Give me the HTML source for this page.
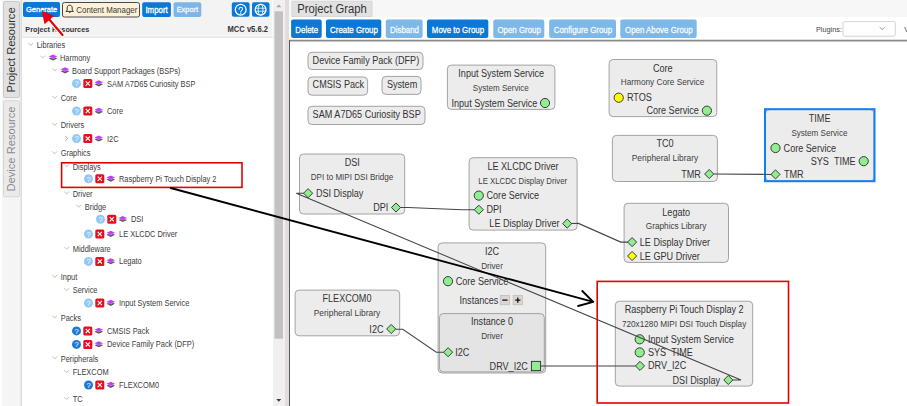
<!DOCTYPE html>
<html><head><meta charset="utf-8"><title>MCC Project Graph</title>
<style>
html,body{margin:0;padding:0;width:907px;height:406px;overflow:hidden;background:#fff;font-family:"Liberation Sans", sans-serif;}
svg{display:block}
text{font-family:"Liberation Sans", sans-serif;}
</style></head><body>
<svg width="907" height="406" viewBox="0 0 907 406" font-family='"Liberation Sans", sans-serif'>
<rect width="907" height="406" fill="#fff"/>
<rect x="2" y="0" width="19" height="406" fill="#f5f5f5"/>
<line x1="20.8" y1="0" x2="20.8" y2="406" stroke="#e4e4e4" stroke-width="1"/>
<rect x="3.5" y="1.5" width="16" height="96" rx="1.5" fill="#e1e1e1" stroke="#cacaca" stroke-width="1"/>
<text transform="translate(14.8,92.4) rotate(-90) scale(1,1.05)" font-size="11.08" fill="#333">Project Resource</text>
<rect x="3.5" y="100.8" width="16" height="96" rx="1.5" fill="#eaeaea" stroke="#d6d6d6" stroke-width="1"/>
<text transform="translate(14.8,191.6) rotate(-90) scale(1,1.05)" font-size="11.2" fill="#8a8a8a">Device Resource</text>
<rect x="21" y="0" width="252" height="38" fill="#f3f3f3"/>
<line x1="21.5" y1="0" x2="21.5" y2="406" stroke="#dcdcdc" stroke-width="1"/>
<rect x="22" y="35" width="251" height="1.6" fill="#f7f7f7"/>
<line x1="22" y1="37.3" x2="273" y2="37.3" stroke="#dcdcdc" stroke-width="1.1"/>
<rect x="23" y="2" width="37" height="15" rx="2" fill="#0a78d7"/>
<text transform="translate(41.60,12.37) scale(0.9434,1)" font-size="8.00" fill="#fff" text-anchor="middle" font-weight="normal" stroke="#fff" stroke-width="0.3">Generate</text>
<rect x="62.5" y="2.5" width="77" height="14.5" rx="2" fill="#fdf1d8" stroke="#4a4a4a" stroke-width="1"/>
<path d="M65.9,11.4 L67.2,10.1 L67.2,7.9 C67.2,6 68.3,5.2 69.7,5.2 C71.1,5.2 72.2,6 72.2,7.9 L72.2,10.1 L73.5,11.4 Z" fill="none" stroke="#3a3a3a" stroke-width="1" stroke-linejoin="round"/>
<path d="M68.7,11.9 Q69.7,13.4 70.7,11.9" fill="none" stroke="#3a3a3a" stroke-width="1"/>
<text transform="translate(76.30,12.69) scale(0.9259,1)" font-size="8.53" fill="#3a3a3a" text-anchor="start" font-weight="normal" >Content Manager</text>
<rect x="142.2" y="2.2" width="28.7" height="14.8" rx="2" fill="#0a78d7"/>
<text transform="translate(156.60,12.59) scale(0.9434,1)" font-size="8.37" fill="#fff" text-anchor="middle" font-weight="normal" stroke="#fff" stroke-width="0.3">Import</text>
<rect x="173.6" y="2.2" width="27.7" height="14.8" rx="2" fill="#7db5e6"/>
<text transform="translate(187.40,12.43) scale(0.9434,1)" font-size="7.90" fill="#f2f7fd" text-anchor="middle" font-weight="normal" stroke="#f2f7fd" stroke-width="0.3">Export</text>
<rect x="231.8" y="2.2" width="17.8" height="14.5" rx="2" fill="#0a78d7"/>
<circle cx="240.7" cy="9.7" r="5.4" fill="none" stroke="#fff" stroke-width="1.3"/>
<path d="M239,9.3 C239,8.1 239.8,7.3 240.8,7.3 C241.8,7.3 242.5,8 242.5,9 C242.5,10.2 240.8,10.5 240.8,11.8" fill="none" stroke="#fff" stroke-width="1.1" stroke-linecap="round"/>
<circle cx="240.8" cy="13.3" r="0.7" fill="#fff"/>
<rect x="252" y="2.2" width="17.5" height="14.5" rx="2" fill="#0a78d7"/>
<circle cx="260.6" cy="9.7" r="5.4" fill="none" stroke="#fff" stroke-width="1.3"/>
<ellipse cx="260.6" cy="9.7" rx="2.4" ry="5.5" fill="none" stroke="#fff" stroke-width="0.9"/>
<line x1="255.1" y1="8.2" x2="266.1" y2="8.2" stroke="#fff" stroke-width="0.8"/>
<line x1="255.1" y1="11.2" x2="266.1" y2="11.2" stroke="#fff" stroke-width="0.8"/>
<text transform="translate(25.30,32.08) scale(0.9091,1)" font-size="8.03" fill="#333" text-anchor="start" font-weight="bold" >Project Resources</text>
<text transform="translate(268.00,31.98) scale(0.9259,1)" font-size="8.21" fill="#333" text-anchor="end" font-weight="bold" >MCC v5.6.2</text>
<rect x="22" y="37.85" width="251" height="369" fill="#fff"/>
<path d="M28.30,43.00 L30.70,45.40 L33.10,43.00" fill="none" stroke="#ababab" stroke-width="0.75"/>
<text transform="translate(36.70,48.03) scale(0.8850,1)" font-size="8.42" fill="#404040" text-anchor="start" font-weight="normal" >Libraries</text>
<path d="M40.30,55.70 L42.70,58.10 L45.10,55.70" fill="none" stroke="#ababab" stroke-width="0.75"/>
<path d="M48.80,58.50 L53.05,56.50 L57.30,58.50 L53.05,60.60 Z" fill="#585858"/>
<path d="M48.80,56.50 L53.05,54.50 L57.30,56.50 L53.05,58.60 Z" fill="#c43cff"/>
<path d="M50.00,57.15 L53.05,58.60 L56.10,57.15" fill="none" stroke="#dc9cff" stroke-width="0.6"/>
<text transform="translate(60.00,60.73) scale(0.8850,1)" font-size="8.42" fill="#404040" text-anchor="start" font-weight="normal" >Harmony</text>
<path d="M52.30,68.50 L54.70,70.90 L57.10,68.50" fill="none" stroke="#ababab" stroke-width="0.75"/>
<path d="M60.80,71.30 L65.05,69.30 L69.30,71.30 L65.05,73.40 Z" fill="#585858"/>
<path d="M60.80,69.30 L65.05,67.30 L69.30,69.30 L65.05,71.40 Z" fill="#c43cff"/>
<path d="M62.00,69.95 L65.05,71.40 L68.10,69.95" fill="none" stroke="#dc9cff" stroke-width="0.6"/>
<text transform="translate(72.00,73.53) scale(0.8850,1)" font-size="8.42" fill="#404040" text-anchor="start" font-weight="normal" >Board Support Packages (BSPs)</text>
<circle cx="76.5" cy="83.5" r="4.5" fill="#92c8f6"/>
<text x="76.5" y="86.2" font-size="7.6" fill="#fff" text-anchor="middle">?</text>
<rect x="83.3" y="79.0" width="9" height="9" rx="1.5" fill="#e5101f"/>
<path d="M85.7,81.4 L89.9,85.6 M89.9,81.4 L85.7,85.6" stroke="#fff" stroke-width="1.1"/>
<path d="M94.50,84.30 L98.75,82.30 L103.00,84.30 L98.75,86.40 Z" fill="#585858"/>
<path d="M94.50,82.30 L98.75,80.30 L103.00,82.30 L98.75,84.40 Z" fill="#c43cff"/>
<path d="M95.70,82.95 L98.75,84.40 L101.80,82.95" fill="none" stroke="#dc9cff" stroke-width="0.6"/>
<text transform="translate(107.00,86.53) scale(0.8850,1)" font-size="8.42" fill="#404040" text-anchor="start" font-weight="normal" >SAM A7D65 Curiosity BSP</text>
<path d="M52.30,96.00 L54.70,98.40 L57.10,96.00" fill="none" stroke="#ababab" stroke-width="0.75"/>
<text transform="translate(60.70,101.03) scale(0.8850,1)" font-size="8.42" fill="#404040" text-anchor="start" font-weight="normal" >Core</text>
<circle cx="76.5" cy="111.0" r="4.5" fill="#92c8f6"/>
<text x="76.5" y="113.7" font-size="7.6" fill="#fff" text-anchor="middle">?</text>
<rect x="83.3" y="106.5" width="9" height="9" rx="1.5" fill="#e5101f"/>
<path d="M85.7,108.9 L89.9,113.1 M89.9,108.9 L85.7,113.1" stroke="#fff" stroke-width="1.1"/>
<path d="M94.50,111.80 L98.75,109.80 L103.00,111.80 L98.75,113.90 Z" fill="#585858"/>
<path d="M94.50,109.80 L98.75,107.80 L103.00,109.80 L98.75,111.90 Z" fill="#c43cff"/>
<path d="M95.70,110.45 L98.75,111.90 L101.80,110.45" fill="none" stroke="#dc9cff" stroke-width="0.6"/>
<text transform="translate(107.00,114.03) scale(0.8850,1)" font-size="8.42" fill="#404040" text-anchor="start" font-weight="normal" >Core</text>
<path d="M52.30,123.00 L54.70,125.40 L57.10,123.00" fill="none" stroke="#ababab" stroke-width="0.75"/>
<text transform="translate(60.70,128.03) scale(0.8850,1)" font-size="8.42" fill="#404040" text-anchor="start" font-weight="normal" >Drivers</text>
<path d="M65.2,136.0 L67.8,138.6 L65.2,141.2" fill="none" stroke="#8a8a8a" stroke-width="0.8"/>
<circle cx="76.5" cy="138.6" r="4.5" fill="#92c8f6"/>
<text x="76.5" y="141.3" font-size="7.6" fill="#fff" text-anchor="middle">?</text>
<rect x="83.3" y="134.1" width="9" height="9" rx="1.5" fill="#e5101f"/>
<path d="M85.7,136.5 L89.9,140.7 M89.9,136.5 L85.7,140.7" stroke="#fff" stroke-width="1.1"/>
<path d="M94.50,139.40 L98.75,137.40 L103.00,139.40 L98.75,141.50 Z" fill="#585858"/>
<path d="M94.50,137.40 L98.75,135.40 L103.00,137.40 L98.75,139.50 Z" fill="#c43cff"/>
<path d="M95.70,138.05 L98.75,139.50 L101.80,138.05" fill="none" stroke="#dc9cff" stroke-width="0.6"/>
<text transform="translate(107.00,141.63) scale(0.8850,1)" font-size="8.42" fill="#404040" text-anchor="start" font-weight="normal" >I2C</text>
<path d="M52.30,151.40 L54.70,153.80 L57.10,151.40" fill="none" stroke="#ababab" stroke-width="0.75"/>
<text transform="translate(60.70,156.43) scale(0.8850,1)" font-size="8.42" fill="#404040" text-anchor="start" font-weight="normal" >Graphics</text>
<path d="M64.30,164.50 L66.70,166.90 L69.10,164.50" fill="none" stroke="#ababab" stroke-width="0.75"/>
<text transform="translate(72.70,169.53) scale(0.8850,1)" font-size="8.42" fill="#404040" text-anchor="start" font-weight="normal" >Displays</text>
<circle cx="88.5" cy="178.8" r="4.5" fill="#92c8f6"/>
<text x="88.5" y="181.5" font-size="7.6" fill="#fff" text-anchor="middle">?</text>
<rect x="95.3" y="174.3" width="9" height="9" rx="1.5" fill="#e5101f"/>
<path d="M97.7,176.7 L101.9,180.9 M101.9,176.7 L97.7,180.9" stroke="#fff" stroke-width="1.1"/>
<path d="M106.50,179.60 L110.75,177.60 L115.00,179.60 L110.75,181.70 Z" fill="#585858"/>
<path d="M106.50,177.60 L110.75,175.60 L115.00,177.60 L110.75,179.70 Z" fill="#c43cff"/>
<path d="M107.70,178.25 L110.75,179.70 L113.80,178.25" fill="none" stroke="#dc9cff" stroke-width="0.6"/>
<text transform="translate(119.00,181.83) scale(0.8850,1)" font-size="8.42" fill="#404040" text-anchor="start" font-weight="normal" >Raspberry Pi Touch Display 2</text>
<path d="M64.30,191.50 L66.70,193.90 L69.10,191.50" fill="none" stroke="#ababab" stroke-width="0.75"/>
<text transform="translate(72.70,196.53) scale(0.8850,1)" font-size="8.42" fill="#404040" text-anchor="start" font-weight="normal" >Driver</text>
<path d="M76.30,204.80 L78.70,207.20 L81.10,204.80" fill="none" stroke="#ababab" stroke-width="0.75"/>
<text transform="translate(84.70,209.83) scale(0.8850,1)" font-size="8.42" fill="#404040" text-anchor="start" font-weight="normal" >Bridge</text>
<circle cx="100.5" cy="219.2" r="4.5" fill="#92c8f6"/>
<text x="100.5" y="221.9" font-size="7.6" fill="#fff" text-anchor="middle">?</text>
<rect x="107.3" y="214.7" width="9" height="9" rx="1.5" fill="#e5101f"/>
<path d="M109.7,217.1 L113.9,221.3 M113.9,217.1 L109.7,221.3" stroke="#fff" stroke-width="1.1"/>
<path d="M118.50,220.00 L122.75,218.00 L127.00,220.00 L122.75,222.10 Z" fill="#585858"/>
<path d="M118.50,218.00 L122.75,216.00 L127.00,218.00 L122.75,220.10 Z" fill="#c43cff"/>
<path d="M119.70,218.65 L122.75,220.10 L125.80,218.65" fill="none" stroke="#dc9cff" stroke-width="0.6"/>
<text transform="translate(131.00,222.23) scale(0.8850,1)" font-size="8.42" fill="#404040" text-anchor="start" font-weight="normal" >DSI</text>
<circle cx="88.5" cy="234.0" r="4.5" fill="#92c8f6"/>
<text x="88.5" y="236.7" font-size="7.6" fill="#fff" text-anchor="middle">?</text>
<rect x="95.3" y="229.5" width="9" height="9" rx="1.5" fill="#e5101f"/>
<path d="M97.7,231.9 L101.9,236.1 M101.9,231.9 L97.7,236.1" stroke="#fff" stroke-width="1.1"/>
<path d="M106.50,234.80 L110.75,232.80 L115.00,234.80 L110.75,236.90 Z" fill="#585858"/>
<path d="M106.50,232.80 L110.75,230.80 L115.00,232.80 L110.75,234.90 Z" fill="#c43cff"/>
<path d="M107.70,233.45 L110.75,234.90 L113.80,233.45" fill="none" stroke="#dc9cff" stroke-width="0.6"/>
<text transform="translate(119.00,237.03) scale(0.8850,1)" font-size="8.42" fill="#404040" text-anchor="start" font-weight="normal" >LE XLCDC Driver</text>
<path d="M64.30,246.80 L66.70,249.20 L69.10,246.80" fill="none" stroke="#ababab" stroke-width="0.75"/>
<text transform="translate(72.70,251.83) scale(0.8850,1)" font-size="8.42" fill="#404040" text-anchor="start" font-weight="normal" >Middleware</text>
<circle cx="88.5" cy="261.4" r="4.5" fill="#92c8f6"/>
<text x="88.5" y="264.1" font-size="7.6" fill="#fff" text-anchor="middle">?</text>
<rect x="95.3" y="256.9" width="9" height="9" rx="1.5" fill="#e5101f"/>
<path d="M97.7,259.3 L101.9,263.5 M101.9,259.3 L97.7,263.5" stroke="#fff" stroke-width="1.1"/>
<path d="M106.50,262.20 L110.75,260.20 L115.00,262.20 L110.75,264.30 Z" fill="#585858"/>
<path d="M106.50,260.20 L110.75,258.20 L115.00,260.20 L110.75,262.30 Z" fill="#c43cff"/>
<path d="M107.70,260.85 L110.75,262.30 L113.80,260.85" fill="none" stroke="#dc9cff" stroke-width="0.6"/>
<text transform="translate(119.00,264.43) scale(0.8850,1)" font-size="8.42" fill="#404040" text-anchor="start" font-weight="normal" >Legato</text>
<path d="M52.30,275.00 L54.70,277.40 L57.10,275.00" fill="none" stroke="#ababab" stroke-width="0.75"/>
<text transform="translate(60.70,280.03) scale(0.8850,1)" font-size="8.42" fill="#404040" text-anchor="start" font-weight="normal" >Input</text>
<path d="M64.30,288.20 L66.70,290.60 L69.10,288.20" fill="none" stroke="#ababab" stroke-width="0.75"/>
<text transform="translate(72.70,293.23) scale(0.8850,1)" font-size="8.42" fill="#404040" text-anchor="start" font-weight="normal" >Service</text>
<circle cx="88.5" cy="303.0" r="4.5" fill="#92c8f6"/>
<text x="88.5" y="305.7" font-size="7.6" fill="#fff" text-anchor="middle">?</text>
<rect x="95.3" y="298.5" width="9" height="9" rx="1.5" fill="#e5101f"/>
<path d="M97.7,300.9 L101.9,305.1 M101.9,300.9 L97.7,305.1" stroke="#fff" stroke-width="1.1"/>
<path d="M106.50,303.80 L110.75,301.80 L115.00,303.80 L110.75,305.90 Z" fill="#585858"/>
<path d="M106.50,301.80 L110.75,299.80 L115.00,301.80 L110.75,303.90 Z" fill="#c43cff"/>
<path d="M107.70,302.45 L110.75,303.90 L113.80,302.45" fill="none" stroke="#dc9cff" stroke-width="0.6"/>
<text transform="translate(119.00,306.03) scale(0.8850,1)" font-size="8.42" fill="#404040" text-anchor="start" font-weight="normal" >Input System Service</text>
<path d="M52.30,315.50 L54.70,317.90 L57.10,315.50" fill="none" stroke="#ababab" stroke-width="0.75"/>
<text transform="translate(60.70,320.53) scale(0.8850,1)" font-size="8.42" fill="#404040" text-anchor="start" font-weight="normal" >Packs</text>
<circle cx="76.5" cy="330.9" r="4.5" fill="#1e7ad6"/>
<text x="76.5" y="333.6" font-size="7.6" fill="#fff" text-anchor="middle">?</text>
<rect x="83.3" y="326.4" width="9" height="9" rx="1.5" fill="#e5101f"/>
<path d="M85.7,328.8 L89.9,333.0 M89.9,328.8 L85.7,333.0" stroke="#fff" stroke-width="1.1"/>
<path d="M94.50,331.70 L98.75,329.70 L103.00,331.70 L98.75,333.80 Z" fill="#585858"/>
<path d="M94.50,329.70 L98.75,327.70 L103.00,329.70 L98.75,331.80 Z" fill="#c43cff"/>
<path d="M95.70,330.35 L98.75,331.80 L101.80,330.35" fill="none" stroke="#dc9cff" stroke-width="0.6"/>
<text transform="translate(107.00,333.93) scale(0.8850,1)" font-size="8.42" fill="#404040" text-anchor="start" font-weight="normal" >CMSIS Pack</text>
<circle cx="76.5" cy="344.4" r="4.5" fill="#1e7ad6"/>
<text x="76.5" y="347.1" font-size="7.6" fill="#fff" text-anchor="middle">?</text>
<rect x="83.3" y="339.9" width="9" height="9" rx="1.5" fill="#e5101f"/>
<path d="M85.7,342.3 L89.9,346.5 M89.9,342.3 L85.7,346.5" stroke="#fff" stroke-width="1.1"/>
<path d="M94.50,345.20 L98.75,343.20 L103.00,345.20 L98.75,347.30 Z" fill="#585858"/>
<path d="M94.50,343.20 L98.75,341.20 L103.00,343.20 L98.75,345.30 Z" fill="#c43cff"/>
<path d="M95.70,343.85 L98.75,345.30 L101.80,343.85" fill="none" stroke="#dc9cff" stroke-width="0.6"/>
<text transform="translate(107.00,347.43) scale(0.8850,1)" font-size="8.42" fill="#404040" text-anchor="start" font-weight="normal" >Device Family Pack (DFP)</text>
<path d="M52.30,356.50 L54.70,358.90 L57.10,356.50" fill="none" stroke="#ababab" stroke-width="0.75"/>
<text transform="translate(60.70,361.53) scale(0.8850,1)" font-size="8.42" fill="#404040" text-anchor="start" font-weight="normal" >Peripherals</text>
<path d="M64.30,370.00 L66.70,372.40 L69.10,370.00" fill="none" stroke="#ababab" stroke-width="0.75"/>
<text transform="translate(72.70,375.03) scale(0.8850,1)" font-size="8.42" fill="#404040" text-anchor="start" font-weight="normal" >FLEXCOM</text>
<circle cx="88.5" cy="385.0" r="4.5" fill="#1e7ad6"/>
<text x="88.5" y="387.7" font-size="7.6" fill="#fff" text-anchor="middle">?</text>
<rect x="95.3" y="380.5" width="9" height="9" rx="1.5" fill="#e5101f"/>
<path d="M97.7,382.9 L101.9,387.1 M101.9,382.9 L97.7,387.1" stroke="#fff" stroke-width="1.1"/>
<path d="M106.50,385.80 L110.75,383.80 L115.00,385.80 L110.75,387.90 Z" fill="#585858"/>
<path d="M106.50,383.80 L110.75,381.80 L115.00,383.80 L110.75,385.90 Z" fill="#c43cff"/>
<path d="M107.70,384.45 L110.75,385.90 L113.80,384.45" fill="none" stroke="#dc9cff" stroke-width="0.6"/>
<text transform="translate(119.00,388.03) scale(0.8850,1)" font-size="8.42" fill="#404040" text-anchor="start" font-weight="normal" >FLEXCOM0</text>
<path d="M64.30,397.00 L66.70,399.40 L69.10,397.00" fill="none" stroke="#ababab" stroke-width="0.75"/>
<text transform="translate(72.70,402.03) scale(0.8850,1)" font-size="8.42" fill="#404040" text-anchor="start" font-weight="normal" >TC</text>
<rect x="273" y="0" width="12" height="406" fill="#f0f0f0"/>
<rect x="274.5" y="11.3" width="8.5" height="327.4" fill="#c1c1c1"/>
<path d="M276.3,7.3 L278.8,4.6 L281.3,7.3 Z" fill="#a3a3a3"/>
<path d="M276.3,399 L281.3,399 L278.8,401.8 Z" fill="#3c3c3c"/>
<rect x="272" y="0" width="1" height="37" fill="#fbfbfb"/>
<rect x="285" y="0" width="4.2" height="406" fill="#e3dcdc"/>
<rect x="289.2" y="0" width="618" height="17.2" fill="#f7f7f7"/>
<rect x="289.2" y="17.2" width="618" height="23" fill="#fff"/>
<rect x="292" y="1.2" width="80" height="15.3" fill="#e1e1e1" stroke="#d2d2d2" stroke-width="0.8"/>
<text transform="translate(297.30,12.83) scale(0.9346,1)" font-size="12.04" fill="#333" text-anchor="start" font-weight="normal" >Project Graph</text>
<rect x="291.1" y="19.6" width="30.6" height="18.3" rx="2" fill="#0a78d7"/>
<text transform="translate(306.70,32.89) scale(0.9615,1)" font-size="8.22" fill="#fff" text-anchor="middle" font-weight="normal" stroke="#fff" stroke-width="0.25">Delete</text>
<rect x="326" y="19.6" width="55.3" height="18.3" rx="2" fill="#0a78d7"/>
<text transform="translate(353.95,32.89) scale(0.9615,1)" font-size="8.22" fill="#fff" text-anchor="middle" font-weight="normal" stroke="#fff" stroke-width="0.25">Create Group</text>
<rect x="385.8" y="19.6" width="36.8" height="18.3" rx="2" fill="#7db8e8"/>
<text transform="translate(404.50,32.89) scale(0.9615,1)" font-size="8.22" fill="#f6fafe" text-anchor="middle" font-weight="normal" stroke="#f6fafe" stroke-width="0.25">Disband</text>
<rect x="427" y="19.6" width="61.3" height="18.3" rx="2" fill="#0a78d7"/>
<text transform="translate(457.95,32.89) scale(0.9615,1)" font-size="8.22" fill="#fff" text-anchor="middle" font-weight="normal" stroke="#fff" stroke-width="0.25">Move to Group</text>
<rect x="493.3" y="19.6" width="51.0" height="18.3" rx="2" fill="#7db8e8"/>
<text transform="translate(519.10,32.89) scale(0.9615,1)" font-size="8.22" fill="#f6fafe" text-anchor="middle" font-weight="normal" stroke="#f6fafe" stroke-width="0.25">Open Group</text>
<rect x="549.2" y="19.6" width="66.8" height="18.3" rx="2" fill="#7db8e8"/>
<text transform="translate(582.90,32.89) scale(0.9615,1)" font-size="8.22" fill="#f6fafe" text-anchor="middle" font-weight="normal" stroke="#f6fafe" stroke-width="0.25">Configure Group</text>
<rect x="620.3" y="19.6" width="76.4" height="18.3" rx="2" fill="#7db8e8"/>
<text transform="translate(658.80,32.89) scale(0.9615,1)" font-size="8.22" fill="#f6fafe" text-anchor="middle" font-weight="normal" stroke="#f6fafe" stroke-width="0.25">Open Above Group</text>
<text x="816.00" y="32.08" font-size="7.3" fill="#444" text-anchor="start" font-weight="normal" >Plugins:</text>
<rect x="843" y="21.6" width="52.3" height="14.6" rx="1.5" fill="#fff" stroke="#c8c8c8" stroke-width="0.8"/>
<path d="M879.7,27.2 L882.2,29.5 L884.7,27.2" fill="none" stroke="#777" stroke-width="0.8"/>
<text x="904.30" y="32.38" font-size="7.6" fill="#444" text-anchor="start" font-weight="normal" >V</text>
<rect x="289.2" y="40" width="618" height="366" fill="#fff"/>
<line x1="289.2" y1="40.3" x2="907" y2="40.3" stroke="#606060" stroke-width="1"/>
<line x1="289.2" y1="41.3" x2="907" y2="41.3" stroke="#b8b8b8" stroke-width="1"/>
<line x1="289.5" y1="40" x2="289.5" y2="406" stroke="#5a5a5a" stroke-width="1"/>
<rect x="308.0" y="52.3" width="115.0" height="17.2" rx="4" fill="#ececec" stroke="#9a9a9a" stroke-width="0.9"/>
<text transform="translate(312.60,63.79) scale(0.8621,1)" font-size="10.56" fill="#333" text-anchor="start" font-weight="normal" >Device Family Pack (DFP)</text>
<rect x="308.0" y="77.0" width="59.6" height="18.2" rx="4" fill="#ececec" stroke="#9a9a9a" stroke-width="0.9"/>
<text transform="translate(312.60,88.49) scale(0.8621,1)" font-size="10.56" fill="#333" text-anchor="start" font-weight="normal" >CMSIS Pack</text>
<rect x="382.0" y="76.4" width="39.0" height="18.0" rx="4" fill="#ececec" stroke="#9a9a9a" stroke-width="0.9"/>
<text transform="translate(386.90,87.89) scale(0.8621,1)" font-size="10.56" fill="#333" text-anchor="start" font-weight="normal" >System</text>
<rect x="308.0" y="106.3" width="117.0" height="18.2" rx="4" fill="#ececec" stroke="#9a9a9a" stroke-width="0.9"/>
<text transform="translate(312.60,118.19) scale(0.8621,1)" font-size="10.56" fill="#333" text-anchor="start" font-weight="normal" >SAM A7D65 Curiosity BSP</text>
<rect x="447.4" y="65.1" width="107.5" height="44.3" rx="4" fill="#ececec" stroke="#9a9a9a" stroke-width="0.9"/>
<text transform="translate(501.20,77.04) scale(0.9091,1)" font-size="10.01" fill="#333" text-anchor="middle" font-weight="normal" >Input System Service</text>
<text transform="translate(500.80,91.00) scale(0.9091,1)" font-size="8.87" fill="#3e3e3e" text-anchor="middle">System Service</text>
<text transform="translate(537.30,106.54) scale(0.9091,1)" font-size="10.01" fill="#333" text-anchor="end" font-weight="normal" >Input System Service</text>
<circle cx="545.0" cy="103.0" r="4.6" fill="#90ee90" stroke="#333" stroke-width="0.95"/>
<rect x="609.1" y="59.5" width="107.7" height="57.1" rx="4" fill="#ececec" stroke="#9a9a9a" stroke-width="0.9"/>
<text transform="translate(662.80,71.64) scale(0.9091,1)" font-size="10.01" fill="#333" text-anchor="middle" font-weight="normal" >Core</text>
<text transform="translate(662.50,85.30) scale(0.9091,1)" font-size="9.09" fill="#3e3e3e" text-anchor="middle">Harmony Core Service</text>
<circle cx="618.7" cy="97.7" r="4.6" fill="#ffff00" stroke="#333" stroke-width="0.95"/>
<text transform="translate(626.90,101.24) scale(0.9091,1)" font-size="10.01" fill="#333" text-anchor="start" font-weight="normal" >RTOS</text>
<text transform="translate(698.90,114.24) scale(0.9091,1)" font-size="10.01" fill="#333" text-anchor="end" font-weight="normal" >Core Service</text>
<circle cx="706.9" cy="110.7" r="4.6" fill="#90ee90" stroke="#333" stroke-width="0.95"/>
<rect x="765.5" y="109.5" width="108.5" height="71.5" rx="4" fill="#ececec" stroke="#9a9a9a" stroke-width="0.9"/>
<rect x="765" y="109.2" width="109.5" height="72" fill="none" stroke="#0d7ef9" stroke-width="2"/>
<text transform="translate(819.60,121.94) scale(0.9091,1)" font-size="10.01" fill="#333" text-anchor="middle" font-weight="normal" >TIME</text>
<text transform="translate(819.40,136.00) scale(0.9091,1)" font-size="8.87" fill="#3e3e3e" text-anchor="middle">System Service</text>
<circle cx="775.5" cy="148.0" r="4.6" fill="#90ee90" stroke="#333" stroke-width="0.95"/>
<text transform="translate(783.60,151.54) scale(0.9091,1)" font-size="10.01" fill="#333" text-anchor="start" font-weight="normal" >Core Service</text>
<text transform="translate(855.60,164.74) scale(0.9091,1)" font-size="10.01" fill="#333" text-anchor="end" font-weight="normal" >SYS<tspan fill="#e4e4e4">_</tspan>TIME</text>
<circle cx="863.7" cy="161.2" r="4.6" fill="#90ee90" stroke="#333" stroke-width="0.95"/>
<path d="M770.95,174.40 L775.50,169.85 L780.05,174.40 L775.50,178.95 Z" fill="#90ee90" stroke="#333" stroke-width="0.95"/>
<text transform="translate(784.00,177.94) scale(0.9091,1)" font-size="10.01" fill="#333" text-anchor="start" font-weight="normal" >TMR</text>
<rect x="612.4" y="135.4" width="105.0" height="46.1" rx="4" fill="#ececec" stroke="#9a9a9a" stroke-width="0.9"/>
<text transform="translate(665.00,147.04) scale(0.9091,1)" font-size="10.01" fill="#333" text-anchor="middle" font-weight="normal" >TC0</text>
<text transform="translate(665.00,161.00) scale(0.9091,1)" font-size="9.28" fill="#3e3e3e" text-anchor="middle">Peripheral Library</text>
<text transform="translate(700.90,177.54) scale(0.9091,1)" font-size="10.01" fill="#333" text-anchor="end" font-weight="normal" >TMR</text>
<path d="M704.65,174.00 L709.20,169.45 L713.75,174.00 L709.20,178.55 Z" fill="#90ee90" stroke="#333" stroke-width="0.95"/>
<rect x="299.5" y="154.0" width="105.2" height="60.0" rx="4" fill="#ececec" stroke="#9a9a9a" stroke-width="0.9"/>
<text transform="translate(352.30,166.24) scale(0.9091,1)" font-size="10.01" fill="#333" text-anchor="middle" font-weight="normal" >DSI</text>
<text transform="translate(352.00,180.00) scale(0.9091,1)" font-size="8.90" fill="#3e3e3e" text-anchor="middle">DPI to MIPI DSI Bridge</text>
<path d="M303.55,193.20 L308.10,188.65 L312.65,193.20 L308.10,197.75 Z" fill="#90ee90" stroke="#333" stroke-width="0.95"/>
<text transform="translate(315.90,196.74) scale(0.9091,1)" font-size="10.01" fill="#333" text-anchor="start" font-weight="normal" >DSI Display</text>
<text transform="translate(388.30,211.04) scale(0.9091,1)" font-size="10.01" fill="#333" text-anchor="end" font-weight="normal" >DPI</text>
<path d="M391.45,207.50 L396.00,202.95 L400.55,207.50 L396.00,212.05 Z" fill="#90ee90" stroke="#333" stroke-width="0.95"/>
<rect x="469.1" y="157.7" width="108.0" height="72.4" rx="4" fill="#ececec" stroke="#9a9a9a" stroke-width="0.9"/>
<text transform="translate(523.00,169.84) scale(0.9091,1)" font-size="10.01" fill="#333" text-anchor="middle" font-weight="normal" >LE XLCDC Driver</text>
<text transform="translate(522.70,184.00) scale(0.9091,1)" font-size="8.59" fill="#3e3e3e" text-anchor="middle">LE XLCDC Display Driver</text>
<circle cx="478.8" cy="195.6" r="4.6" fill="#90ee90" stroke="#333" stroke-width="0.95"/>
<text transform="translate(486.50,199.14) scale(0.9091,1)" font-size="10.01" fill="#333" text-anchor="start" font-weight="normal" >Core Service</text>
<path d="M474.25,209.70 L478.80,205.15 L483.35,209.70 L478.80,214.25 Z" fill="#90ee90" stroke="#333" stroke-width="0.95"/>
<text transform="translate(486.50,213.24) scale(0.9091,1)" font-size="10.01" fill="#333" text-anchor="start" font-weight="normal" >DPI</text>
<text transform="translate(559.50,227.14) scale(0.9091,1)" font-size="10.01" fill="#333" text-anchor="end" font-weight="normal" >LE Display Driver</text>
<path d="M562.65,223.60 L567.20,219.05 L571.75,223.60 L567.20,228.15 Z" fill="#90ee90" stroke="#333" stroke-width="0.95"/>
<rect x="624.1" y="203.3" width="104.4" height="59.1" rx="4" fill="#ececec" stroke="#9a9a9a" stroke-width="0.9"/>
<text transform="translate(676.20,215.54) scale(0.9091,1)" font-size="10.01" fill="#333" text-anchor="middle" font-weight="normal" >Legato</text>
<text transform="translate(676.00,229.00) scale(0.9091,1)" font-size="9.10" fill="#3e3e3e" text-anchor="middle">Graphics Library</text>
<path d="M627.55,242.10 L632.10,237.55 L636.65,242.10 L632.10,246.65 Z" fill="#90ee90" stroke="#333" stroke-width="0.95"/>
<text transform="translate(639.80,245.64) scale(0.9091,1)" font-size="10.01" fill="#333" text-anchor="start" font-weight="normal" >LE Display Driver</text>
<path d="M627.55,256.00 L632.10,251.45 L636.65,256.00 L632.10,260.55 Z" fill="#ffff00" stroke="#333" stroke-width="0.95"/>
<text transform="translate(639.80,259.54) scale(0.9091,1)" font-size="10.01" fill="#333" text-anchor="start" font-weight="normal" >LE GPU Driver</text>
<rect x="438.1" y="242.9" width="107.6" height="130.1" rx="4" fill="#ececec" stroke="#9a9a9a" stroke-width="0.9"/>
<text transform="translate(492.00,255.14) scale(0.9091,1)" font-size="10.01" fill="#333" text-anchor="middle" font-weight="normal" >I2C</text>
<text transform="translate(492.00,269.00) scale(0.9091,1)" font-size="8.97" fill="#3e3e3e" text-anchor="middle">Driver</text>
<circle cx="448.0" cy="281.2" r="4.6" fill="#90ee90" stroke="#333" stroke-width="0.95"/>
<text transform="translate(455.70,284.74) scale(0.9091,1)" font-size="10.01" fill="#333" text-anchor="start" font-weight="normal" >Core Service</text>
<text transform="translate(498.40,303.74) scale(0.9091,1)" font-size="10.01" fill="#333" text-anchor="end" font-weight="normal" >Instances</text>
<rect x="500.2" y="295.4" width="9.4" height="9.4" fill="#ddd6d0" stroke="#b9b2ac" stroke-width="0.6"/>
<line x1="502.3" y1="300.1" x2="507.5" y2="300.1" stroke="#111" stroke-width="1.3"/>
<rect x="513.1" y="295.4" width="9.4" height="9.4" fill="#ddd6d0" stroke="#b9b2ac" stroke-width="0.6"/>
<path d="M515.2,300.1 L520.4,300.1 M517.8,297.5 L517.8,302.7" stroke="#111" stroke-width="1.3"/>
<rect x="439.4" y="313.6" width="104.9" height="58.3" rx="4" fill="#e4e4e4" stroke="#9a9a9a" stroke-width="0.9"/>
<text transform="translate(492.00,324.74) scale(0.9091,1)" font-size="10.01" fill="#333" text-anchor="middle" font-weight="normal" >Instance 0</text>
<text transform="translate(492.00,339.00) scale(0.9091,1)" font-size="8.97" fill="#3e3e3e" text-anchor="middle">Driver</text>
<path d="M443.55,352.20 L448.10,347.65 L452.65,352.20 L448.10,356.75 Z" fill="#90ee90" stroke="#333" stroke-width="0.95"/>
<text transform="translate(455.30,355.74) scale(0.9091,1)" font-size="10.01" fill="#333" text-anchor="start" font-weight="normal" >I2C</text>
<text transform="translate(527.80,369.54) scale(0.9091,1)" font-size="10.01" fill="#333" text-anchor="end" font-weight="normal" >DRV_I2C</text>
<rect x="531.4" y="361.4" width="9.2" height="9.2" fill="#90ee90" stroke="#333" stroke-width="0.95"/>
<rect x="295.1" y="290.1" width="104.6" height="45.7" rx="4" fill="#ececec" stroke="#9a9a9a" stroke-width="0.9"/>
<text transform="translate(347.00,302.04) scale(0.9091,1)" font-size="10.01" fill="#333" text-anchor="middle" font-weight="normal" >FLEXCOM0</text>
<text transform="translate(347.00,316.00) scale(0.9091,1)" font-size="9.28" fill="#3e3e3e" text-anchor="middle">Peripheral Library</text>
<text transform="translate(383.50,332.54) scale(0.9091,1)" font-size="10.01" fill="#333" text-anchor="end" font-weight="normal" >I2C</text>
<path d="M386.65,329.00 L391.20,324.45 L395.75,329.00 L391.20,333.55 Z" fill="#90ee90" stroke="#333" stroke-width="0.95"/>
<rect x="615.3" y="301.2" width="137.4" height="84.9" rx="4" fill="#ececec" stroke="#9a9a9a" stroke-width="0.9"/>
<text transform="translate(684.20,313.34) scale(0.9091,1)" font-size="10.01" fill="#333" text-anchor="middle" font-weight="normal" >Raspberry Pi Touch Display 2</text>
<text transform="translate(684.10,327.00) scale(0.9091,1)" font-size="9.05" fill="#3e3e3e" text-anchor="middle">720x1280 MIPI DSI Touch Display</text>
<circle cx="639.7" cy="339.3" r="4.6" fill="#90ee90" stroke="#333" stroke-width="0.95"/>
<text transform="translate(648.00,342.84) scale(0.9091,1)" font-size="10.01" fill="#333" text-anchor="start" font-weight="normal" >Input System Service</text>
<circle cx="639.7" cy="352.4" r="4.6" fill="#90ee90" stroke="#333" stroke-width="0.95"/>
<text transform="translate(648.00,355.94) scale(0.9091,1)" font-size="10.01" fill="#333" text-anchor="start" font-weight="normal" >SYS<tspan fill="#e4e4e4">_</tspan>TIME</text>
<path d="M635.45,365.90 L640.00,361.35 L644.55,365.90 L640.00,370.45 Z" fill="#90ee90" stroke="#333" stroke-width="0.95"/>
<text transform="translate(648.00,369.44) scale(0.9091,1)" font-size="10.01" fill="#333" text-anchor="start" font-weight="normal" >DRV_I2C</text>
<text transform="translate(720.00,383.54) scale(0.9091,1)" font-size="10.01" fill="#333" text-anchor="end" font-weight="normal" >DSI Display</text>
<path d="M723.75,380.00 L728.30,375.45 L732.85,380.00 L728.30,384.55 Z" fill="#90ee90" stroke="#333" stroke-width="0.95"/>
<path d="M304,193.2 L296.3,193.2 L741,380 L732.7,380" fill="none" stroke="#454545" stroke-width="1.05"/>
<path d="M400.3,207.5 L408,207.6 L462,209.7 L474.4,209.7" fill="none" stroke="#454545" stroke-width="1.05"/>
<path d="M571.6,223.6 L578.5,223.4 L620.8,242.1 L627.8,242.1" fill="none" stroke="#454545" stroke-width="1.05"/>
<path d="M713.6,174 L771.1,174.4" fill="none" stroke="#454545" stroke-width="1.05"/>
<path d="M395.6,329.2 L402.8,329.2 L436.3,352.2 L443.7,352.2" fill="none" stroke="#454545" stroke-width="1.05"/>
<path d="M540.6,366 L635.6,365.9" fill="none" stroke="#454545" stroke-width="1.05"/>
<rect x="61.6" y="162.8" width="180.4" height="24.6" fill="none" stroke="#e40000" stroke-width="1.6"/>
<rect x="597.2" y="281.4" width="191.3" height="121.6" fill="none" stroke="#e40000" stroke-width="1.6"/>
<path d="M170.7,188 L593.2,301.8 M582.3,291 L593.2,301.8 L578.1,306" fill="none" stroke="#000" stroke-width="1.9" stroke-linecap="round" stroke-linejoin="round"/>
<path d="M63.6,36.3 L49.6,19.8" stroke="#fff" stroke-opacity="0.85" stroke-width="5" stroke-linecap="butt"/>
<path d="M62.5,35 L48.5,18.5" stroke="#e8000b" stroke-width="2.2" stroke-linecap="round"/>
<path d="M41.6,10.8 L44.6,24.2 L54.2,15.8 Z" fill="#e8000b"/>
</svg>
</body></html>
